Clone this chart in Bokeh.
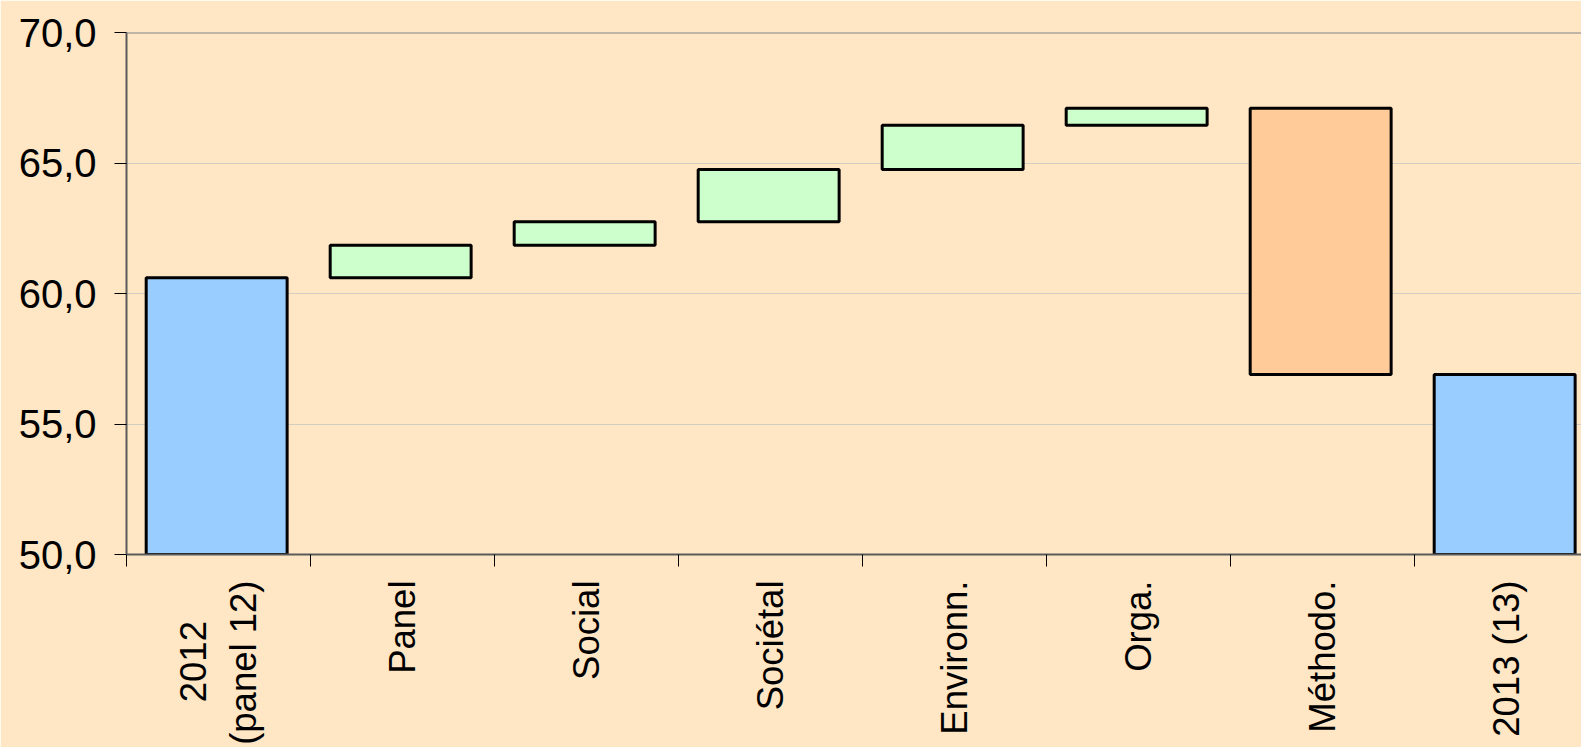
import math
from bokeh.plotting import figure
from bokeh.models import Range1d, FixedTicker, Span, ColumnDataSource
from bokeh.embed import file_html
from bokeh.resources import INLINE

# ---- data ----
categories = ["2012\u00a0\u00a0\u00a0\u00a0\n(panel 12)", "Panel", "Social", "Sociétal", "Environn.", "Orga.", "Méthodo.", "2013 (13)"]
values = [60.6, 1.25, 0.9, 2.0, 1.7, 0.65, -10.2, 56.9]
kinds = ["total", "delta", "delta", "delta", "delta", "delta", "delta", "total"]
y_ticks = [50, 55, 60, 65, 70]
y_tick_labels = ["50,0", "55,0", "60,0", "65,0", "70,0"]

# ---- style ----
BG = "#FFE6C4"
C_TOTAL = "#99CCFF"
C_UP = "#CCFFCC"
C_DOWN = "#FFCC99"
Y_MIN, Y_MAX = 50, 70
FONT = "Liberation Sans"

# waterfall geometry derived from data
lefts, rights, bottoms, tops, fills = [], [], [], [], []
running = 0.0
for i, (v, k) in enumerate(zip(values, kinds)):
    c = i + 0.49
    lefts.append(c - 0.383)
    rights.append(c + 0.383)
    if k == "total":
        bottoms.append(Y_MIN)
        tops.append(v)
        running = v
        fills.append(C_TOTAL)
    else:
        new = running + v
        bottoms.append(min(running, new))
        tops.append(max(running, new))
        fills.append(C_UP if v >= 0 else C_DOWN)
        running = new

src = ColumnDataSource(dict(left=lefts, right=rights, bottom=bottoms, top=tops, fill=fills))

W, H = 1581, 747
BORDER_LEFT = 126
CAT_PX = 184.0
x_end = (W - BORDER_LEFT) / CAT_PX

p = figure(width=W, height=H, x_range=Range1d(0, x_end), y_range=Range1d(Y_MIN, Y_MAX),
           output_backend="svg", toolbar_location=None,
           min_border_left=BORDER_LEFT, min_border_right=0, min_border_top=32, min_border_bottom=0)
p.background_fill_color = BG
p.border_fill_color = BG
p.outline_line_color = None

p.quad(left="left", right="right", bottom="bottom", top="top", fill_color="fill",
       line_color="black", line_width=3, source=src)

# grid
p.xgrid.visible = False
p.ygrid.ticker = FixedTicker(ticks=[t for t in y_ticks if Y_MIN < t < Y_MAX])
p.ygrid.grid_line_color = "#D2CCC2"
p.ygrid.grid_line_width = 1
p.add_layout(Span(location=Y_MAX, dimension="width", line_color="#808080", line_width=2))

# y axis
ya = p.yaxis[0]
ya.ticker = FixedTicker(ticks=y_ticks)
ya.major_label_overrides = dict(zip(y_ticks, y_tick_labels))
ya.major_label_text_font = FONT
ya.major_label_text_font_size = "40px"
ya.major_label_text_color = "black"
ya.major_label_standoff = 18
ya.axis_line_color = "#5A5A5A"
ya.axis_line_width = 2
ya.major_tick_out = 12
ya.major_tick_in = 0
ya.major_tick_line_color = "black"
ya.minor_tick_line_color = None

# x axis: labels at centres, boundary ticks as minor ticks
centers = [i + 0.5 for i in range(len(categories))]
xa = p.xaxis[0]
xa.ticker = FixedTicker(ticks=centers, minor_ticks=list(range(len(categories) + 1)))
xa.major_label_overrides = dict(zip(centers, categories))
xa.major_label_orientation = math.pi / 2
xa.major_label_text_font = FONT
xa.major_label_text_font_size = "36.5px"
xa.major_label_text_color = "black"
xa.major_label_standoff = 14
xa.major_tick_out = 0
xa.major_tick_in = 0
xa.minor_tick_out = 12
xa.minor_tick_in = 0
xa.minor_tick_line_color = "black"
xa.axis_line_color = "#5A5A5A"
xa.axis_line_width = 2

html = file_html(p, INLINE)
html = html.replace("<body>", '<body style="background:%s">' % BG, 1)
open("out.html", "w").write(html)
